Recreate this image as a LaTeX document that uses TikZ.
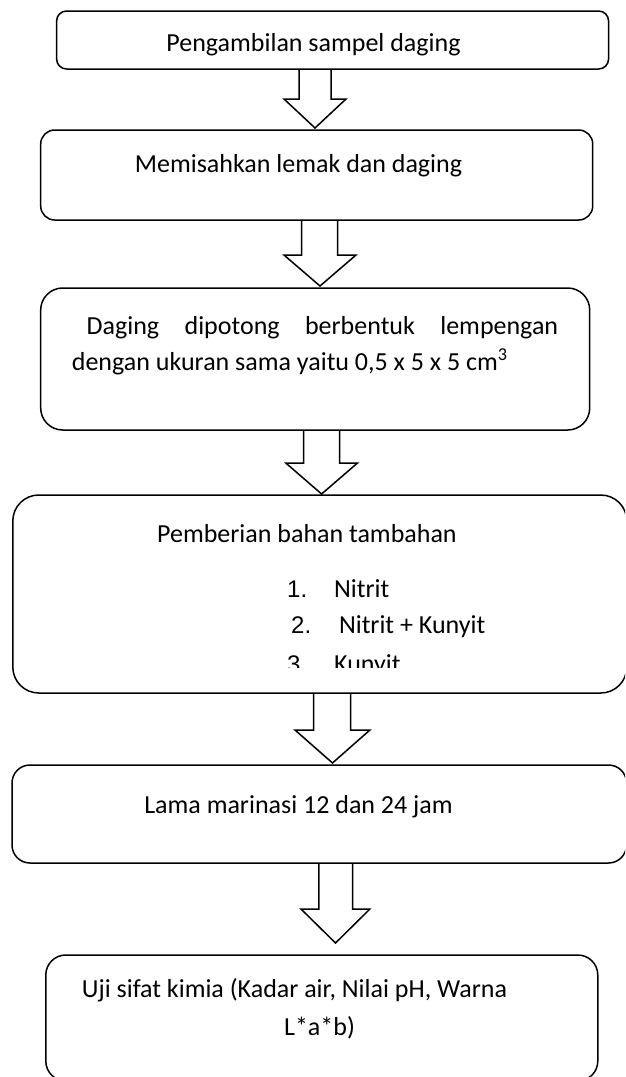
\documentclass[tikz,border=0pt]{standalone}
\usepackage{fontspec}
\setmainfont{Carlito}
\newfontfamily\arialfont{Liberation Sans}
\newcommand\blkarrow[8]{% xl xr y0 y1 hl hr tipx tipy
  \draw[blk] (#1,#3) -- (#1,#4) -- (#5,#4) -- (#7,#8) coordinate (tip) -- (#6,#4) -- (#2,#4) -- (#2,#3);}
\begin{document}
\begin{tikzpicture}[x=1pt,y=-1pt,
  box/.style={draw, line width=1.5pt, inner sep=0pt, outer sep=0pt, anchor=north west},
  blk/.style={draw, line width=1.5pt, line join=miter},
  txt/.style={inner sep=0pt, font=\fontsize{26}{31}\selectfont},
  num/.style={inner sep=0pt, font=\arialfont\fontsize{24}{29}\selectfont}]
\useasboundingbox (0,0) rectangle (625,1077);
\clip (0,0) rectangle (625,1077);

% boxes
\node[box, rounded corners=10pt, minimum width=552pt, minimum height=58pt] (b1) at (56.6,11) {};
\node[box, rounded corners=14pt, minimum width=552pt, minimum height=90pt] (b2) at (40.7,130) {};
\node[box, rounded corners=22pt, minimum width=549pt, minimum height=142pt] (b3) at (40.7,288) {};
\node[box, rounded corners=26pt, minimum width=614pt, minimum height=198pt] (b4) at (12.8,495) {};
\node[box, rounded corners=18pt, minimum width=614.5pt, minimum height=98pt] (b5) at (12,765) {};
\node[box, rounded corners=20pt, minimum width=552pt, minimum height=126pt] (b6) at (45.8,955) {};

% block arrows
\blkarrow{299}{331}{69}{99}{284}{346}{315}{128}
\blkarrow{301.7}{337.6}{220}{255}{284}{356}{320}{286}
\blkarrow{303.7}{339.6}{430}{463}{285.8}{357.5}{321.6}{494}
\blkarrow{313.7}{350.7}{693}{730}{295}{369.9}{332.5}{763}
\blkarrow{318.8}{352.7}{863}{909}{301}{369.9}{335.5}{943}

% texts
\node[txt, anchor=base] (t1) at (313.5,51) {Pengambilan sampel daging};
\node[txt, anchor=base] (t2) at (298.5,172) {Memisahkan lemak dan daging};
\node[txt, anchor=base west] (t3a) at (86.5,334) {\makebox[471.5pt][s]{Daging dipotong berbentuk lempengan}};
\node[txt, anchor=base west] (t3b) at (71.7,370) {dengan ukuran sama yaitu 0,5 x 5 x 5 cm\textsuperscript{3}};
\node[txt, anchor=base] (t4) at (306.9,542) {Pemberian bahan tambahan};
\node[num, anchor=base west] (n1) at (287,597) {1.};
\node[txt, anchor=base west] (i1) at (334,597) {Nitrit};
\node[num, anchor=base west] (n2) at (291,633) {2.};
\node[txt, anchor=base west] (i2) at (338.8,633) {Nitrit + Kunyit};
\begin{scope}
\clip (200,640) rectangle (520,667);
\node[num, anchor=base west] (n3) at (287,672) {3.};
\node[txt, anchor=base west] (i3) at (334,672) {Kunyit};
\end{scope}
\node[txt, anchor=base] (t5) at (298.5,813) {Lama marinasi 12 dan 24 jam};
\node[txt, anchor=base west] (t6a) at (81.7,997) {Uji sifat kimia (Kadar air, Nilai pH, Warna};
\node[txt, anchor=base] (t6b) at (319.5,1035) {L*a*b)};
\end{tikzpicture}
\end{document}
